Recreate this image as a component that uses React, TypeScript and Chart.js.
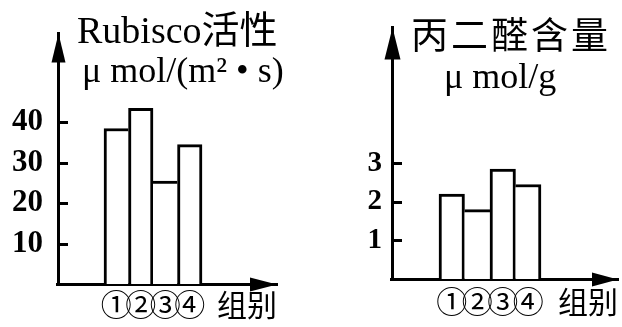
import React, { useEffect, useRef } from 'react';
import { Chart, registerables } from 'chart.js';

Chart.register(...registerables);

// ---- data ----
const groups = ['①', '②', '③', '④'];
const xAxisTitle = '组别';

const rubiscoTitle = ['Rubisco活性', 'μ mol/(m² • s)'];
const rubiscoTicks = [10, 20, 30, 40];
const rubiscoValues = [38.5, 43.5, 25.5, 34.5];

const mdaTitle = ['丙二醛含量', 'μ mol/g'];
const mdaTicks = [1, 2, 3];
const mdaValues = [2.2, 1.8, 2.85, 2.45];

const SERIF = '"Liberation Serif", "Times New Roman", "Noto Sans CJK SC", serif';
const CJK = '"Noto Sans CJK SC", "Liberation Serif", sans-serif';

type TitleLine = { text: string; x: number; y: number; size: number; family: string; spacing?: string };
type Spec = {
  values: number[];
  ticks: number[];
  yMax: number;
  xMin: number;
  xMax: number;
  axisWidth: number;
  xHeight: number;
  padTop: number;
  padRight: number;
  tickFont: number;
  tickPad: number;
  labelFont: number;
  labelPad: number;
  titleBottom: number;
  titleLines: TitleLine[];
  yArrow: { len: number; half: number };
  xArrow: { len: number; half: number };
  tickLen: number;
};

const leftSpec: Spec = {
  values: rubiscoValues,
  ticks: rubiscoTicks,
  yMax: 62,
  xMin: -1.378,
  xMax: 7.561,
  axisWidth: 58,
  xHeight: 43,
  padTop: 33,
  padRight: 34,
  tickFont: 31,
  tickPad: 15,
  labelFont: 31,
  labelPad: 2,
  titleBottom: 4,
  titleLines: [
    { text: rubiscoTitle[0], x: 77, y: 43, size: 38, family: SERIF },
    { text: rubiscoTitle[1], x: 82, y: 82, size: 36, family: SERIF },
  ],
  yArrow: { len: 29, half: 7 },
  xArrow: { len: 27, half: 7 },
  tickLen: 10,
};

const rightSpec: Spec = {
  values: mdaValues,
  ticks: mdaTicks,
  yMax: 6.525,
  xMin: -1.343,
  xMax: 7.52,
  axisWidth: 81,
  xHeight: 48,
  padTop: 18,
  padRight: 4,
  tickFont: 29,
  tickPad: 10,
  labelFont: 31,
  labelPad: 4,
  titleBottom: 7.5,
  titleLines: [
    { text: mdaTitle[0], x: 100, y: 49, size: 37, family: CJK, spacing: '3px' },
    { text: mdaTitle[1], x: 133, y: 88, size: 36, family: SERIF },
  ],
  yArrow: { len: 32, half: 8 },
  xArrow: { len: 26, half: 7 },
  tickLen: 10,
};

const borderFor = (vals: number[]) => (ctx: any) => {
  const i = ctx.dataIndex;
  const v = vals[i];
  const left = i === 0 || v >= vals[i - 1] ? 3 : 0;
  const right = i === vals.length - 1 || v > vals[i + 1] ? 3 : 0;
  return { top: 3, left, right, bottom: 0 };
};

const decor = (spec: Spec) => ({
  id: 'decor',
  afterDraw(chart: any) {
    const { ctx, chartArea: a, scales } = chart;
    const y = scales.y;
    ctx.save();
    ctx.fillStyle = '#000';
    ctx.strokeStyle = '#000';
    ctx.lineWidth = 3;
    spec.ticks.forEach((v) => {
      const py = Math.round(y.getPixelForValue(v)) + 0.5;
      ctx.beginPath();
      ctx.moveTo(a.left, py);
      ctx.lineTo(a.left + spec.tickLen, py);
      ctx.stroke();
    });
    ctx.fillRect(Math.round(a.left) - 2, Math.round(a.bottom) - 1, 4, 3);
    // y arrow
    ctx.beginPath();
    ctx.moveTo(a.left + 0.5, a.top);
    ctx.lineTo(a.left + 0.5 - spec.yArrow.half, a.top + spec.yArrow.len);
    ctx.lineTo(a.left + 0.5 + spec.yArrow.half, a.top + spec.yArrow.len);
    ctx.closePath();
    ctx.fill();
    // x arrow
    ctx.beginPath();
    ctx.moveTo(a.right, a.bottom + 0.5);
    ctx.lineTo(a.right - spec.xArrow.len, a.bottom + 0.5 - spec.xArrow.half);
    ctx.lineTo(a.right - spec.xArrow.len, a.bottom + 0.5 + spec.xArrow.half);
    ctx.closePath();
    ctx.fill();
    // titles
    ctx.textAlign = 'left';
    ctx.textBaseline = 'alphabetic';
    spec.titleLines.forEach((t) => {
      ctx.font = `${t.size}px ${t.family}`;
      (ctx as any).letterSpacing = t.spacing || '0px';
      ctx.fillText(t.text, t.x, t.y);
    });
    ctx.restore();
  },
});

function Panel({ spec, left }: { spec: Spec; left: number }) {
  const ref = useRef<HTMLCanvasElement>(null);
  useEffect(() => {
    const chart = new Chart(ref.current as HTMLCanvasElement, {
      type: 'bar',
      data: {
        datasets: [
          {
            data: spec.values.map((v, i) => ({ x: i + 1, y: v })),
            backgroundColor: '#fff',
            borderColor: '#000',
            borderWidth: borderFor(spec.values) as any,
            borderSkipped: 'start',
            barPercentage: 1,
            categoryPercentage: 1,
          },
        ],
      },
      options: {
        responsive: false,
        animation: false,
        devicePixelRatio: 1,
        layout: { padding: { top: spec.padTop, right: spec.padRight, left: 0, bottom: 0 } },
        plugins: { legend: { display: false }, tooltip: { enabled: false } },
        scales: {
          x: {
            type: 'linear',
            bounds: 'data',
            offset: false,
            min: spec.xMin,
            max: spec.xMax,
            grid: { display: false, drawTicks: false, offset: false },
            border: { display: true, width: 3, color: '#000' },
            afterBuildTicks: (s: any) => {
              s.ticks = groups.map((_, i) => ({ value: i + 1 }));
            },
            afterFit: (s: any) => {
              s.height = spec.xHeight;
            },
            ticks: {
              autoSkip: false,
              maxRotation: 0,
              minRotation: 0,
              padding: spec.labelPad,
              color: '#000',
              font: { family: CJK, size: spec.labelFont, lineHeight: 1.2 },
              callback: (_v: any, i: number) => groups[i] ?? '',
            },
            title: {
              display: true,
              text: xAxisTitle,
              align: 'end',
              color: '#000',
              font: { family: CJK, size: 30, lineHeight: 1.2 },
              padding: { top: 0, bottom: spec.titleBottom },
            },
          },
          y: {
            type: 'linear',
            bounds: 'data',
            min: 0,
            max: spec.yMax,
            grid: { display: false, drawTicks: false },
            border: { display: true, width: 3, color: '#000' },
            afterBuildTicks: (s: any) => {
              s.ticks = spec.ticks.map((v) => ({ value: v }));
            },
            afterFit: (s: any) => {
              s.width = spec.axisWidth;
            },
            ticks: {
              padding: spec.tickPad,
              color: '#000',
              font: { family: SERIF, size: spec.tickFont, weight: 'bold' },
            },
          },
        },
      } as any,
      plugins: [decor(spec)],
    });
    return () => chart.destroy();
  }, []);
  return (
    <canvas
      ref={ref}
      width={311}
      height={327}
      style={{ position: 'absolute', left, top: 0, width: 311, height: 327 }}
    />
  );
}

export default function App() {
  return (
    <div style={{ position: 'absolute', left: 0, top: 0, width: 622, height: 327, background: '#fff' }}>
      <Panel spec={leftSpec} left={0} />
      <Panel spec={rightSpec} left={311} />
    </div>
  );
}
